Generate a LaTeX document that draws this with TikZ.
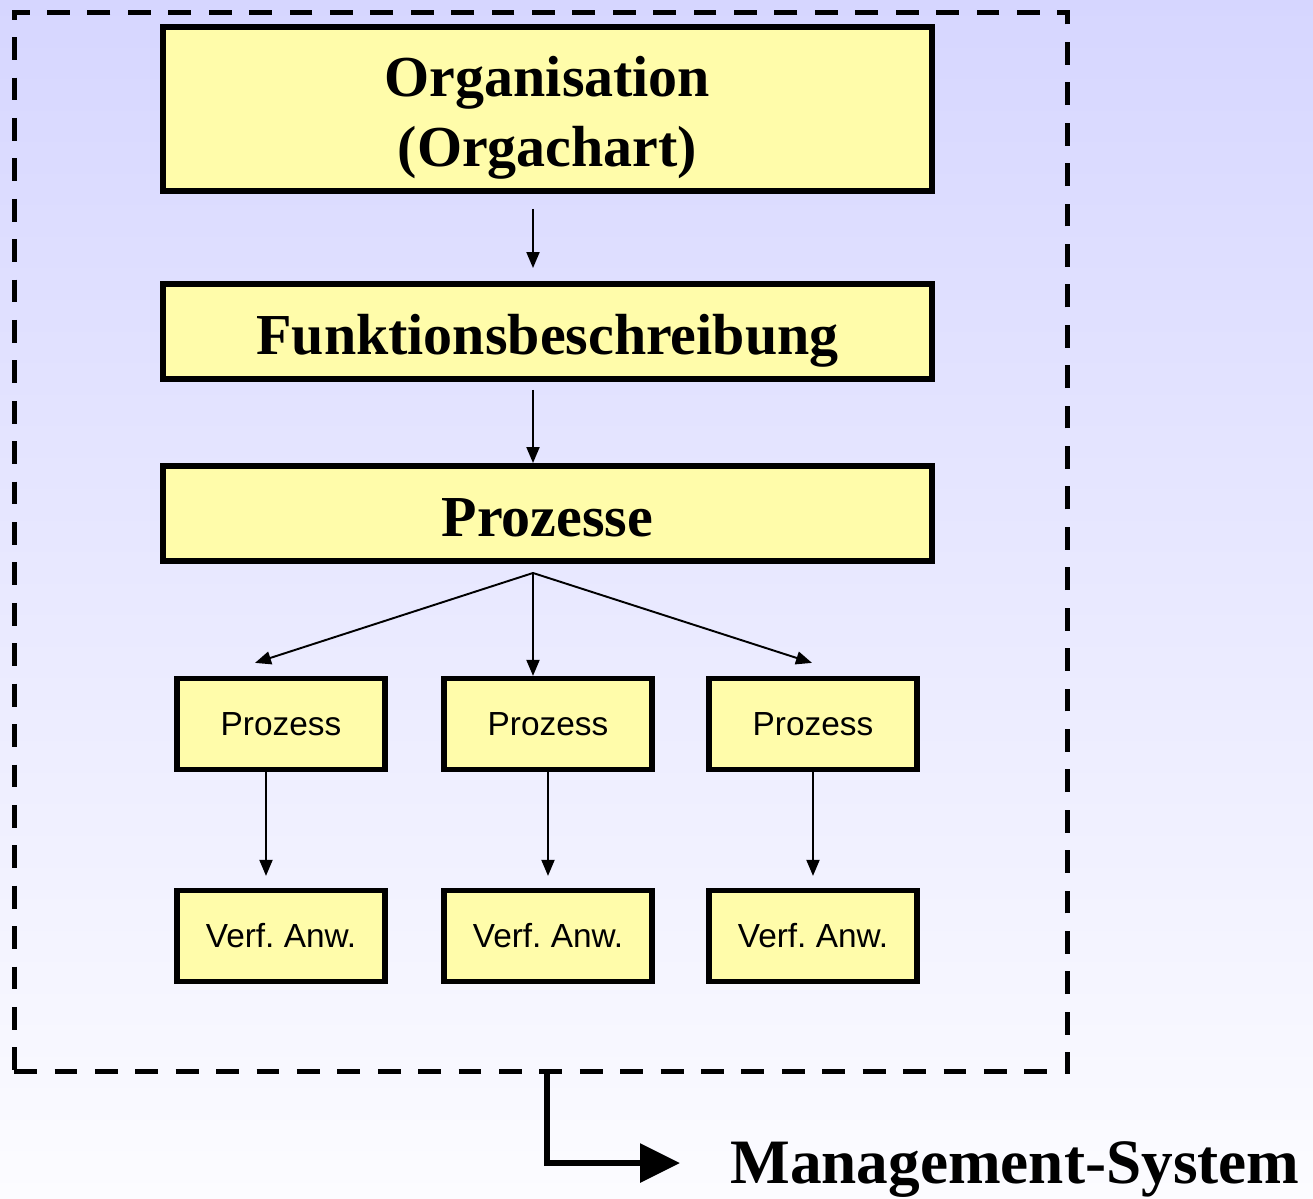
\documentclass[tikz,border=0pt]{standalone}
\usepackage{fontspec}
\setmainfont{Liberation Serif}
\setsansfont{Liberation Sans}
\usetikzlibrary{arrows.meta}
\definecolor{boxyellow}{RGB}{255,252,170}
\definecolor{bgtop}{RGB}{214,214,255}
\definecolor{bgbottom}{RGB}{252,252,255}
\frenchspacing

\begin{document}
\begin{tikzpicture}
        [x=0.02cm, y=-0.02cm,
        bigBox/.style={rectangle, draw, line width=3.4pt, fill=boxyellow, minimum width=15.38cm, align=center, text height=26.5pt, text depth=0pt, font=\fontsize{33}{40}\selectfont\bfseries},
        smallBox/.style={rectangle, draw, line width=3pt, fill=boxyellow, minimum width=4.16cm, minimum height=1.82cm, font=\sffamily\fontsize{19}{23}\selectfont},
        arr/.style={line width=1.1pt, -{Triangle[length=0.32cm, width=0.26cm]}},
        frame/.style={rectangle, draw, line width=2.8pt, dash pattern=on 13pt off 10pt, minimum width=21.08cm, minimum height=21.2cm}]
        \shade[top color=bgtop, bottom color=bgbottom] (0,0) rectangle (1313,1198);
        \useasboundingbox (0,0) rectangle (1313,1198);

        \node[frame] (sys) at (541,542) {};
        \node[bigBox, minimum height=3.28cm, text height=65.8pt] (org) at (547.5,109) {Organisation\\(Orgachart)};
        \node[bigBox, minimum height=1.9cm] (fkt) at (547.5,331.5) {Funktionsbeschreibung};
        \node[bigBox, minimum height=1.9cm] (prz) at (547.5,513.5) {Prozesse};
        \node[smallBox] (p1) at (281,724) {Prozess};
        \node[smallBox] (p2) at (548,724) {Prozess};
        \node[smallBox] (p3) at (813,724) {Prozess};
        \node[smallBox] (v1) at (281,936) {Verf. Anw.};
        \node[smallBox] (v2) at (548,936) {Verf. Anw.};
        \node[smallBox] (v3) at (813,936) {Verf. Anw.};
        \node[inner sep=0pt, anchor=base west, text height=22.7pt, text depth=0pt, font=\fontsize{36}{40}\selectfont\bfseries] (ms) at (730,1183) {Management-System};

        \draw[arr, shorten <=0.3cm, shorten >=0.26cm] ([xshift=-0.29cm]org.south) -- ([xshift=-0.29cm]fkt.north);
        \draw[arr, shorten <=0.16cm] ([xshift=-0.29cm]fkt.south) -- ([xshift=-0.29cm]prz.north);

        % Verzweigung zu den Prozessen
        \coordinate (fan) at ([xshift=-0.29cm, yshift=-0.18cm]prz.south);
        \draw[arr] (fan) -- ([xshift=-0.52cm, yshift=0.26cm]p1.north);
        \draw[arr] (fan) -- (fan |- p2.north);
        \draw[arr] (fan) -- ([xshift=-0.02cm, yshift=0.26cm]p3.north);

        \draw[arr, shorten >=0.24cm] ([xshift=-0.3cm]p1.south) -- ([xshift=-0.3cm]v1.north);
        \draw[arr, shorten >=0.24cm] (p2.south) -- (v2.north);
        \draw[arr, shorten >=0.24cm] (p3.south) -- (v3.north);

        \draw[line width=3.4pt, shorten >=1cm, -{Triangle[length=0.8cm, width=0.76cm]}] ([xshift=0.12cm]sys.south) |- (ms.west);
    \end{tikzpicture}
\end{document}
